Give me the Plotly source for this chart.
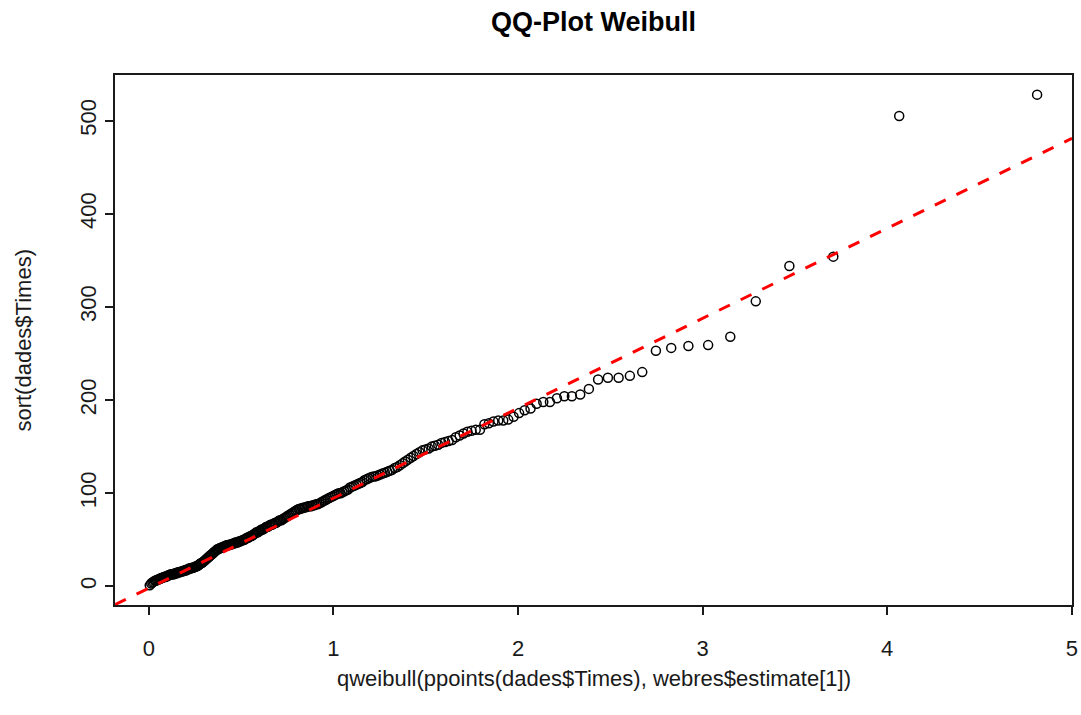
import plotly.graph_objects as go

theoretical = [
    0.005, 0.013, 0.020, 0.026, 0.033, 0.039, 0.045, 0.051, 0.057, 0.063,
    0.068, 0.074, 0.080, 0.085, 0.091, 0.096, 0.102, 0.108, 0.113, 0.119,
    0.125, 0.130, 0.136, 0.141, 0.146, 0.152, 0.157, 0.163, 0.168, 0.174,
    0.179, 0.185, 0.190, 0.195, 0.201, 0.206, 0.212, 0.217, 0.222, 0.228,
    0.233, 0.239, 0.244, 0.250, 0.255, 0.261, 0.266, 0.272, 0.277, 0.283,
    0.288, 0.294, 0.299, 0.305, 0.311, 0.316, 0.322, 0.327, 0.333, 0.339,
    0.345, 0.350, 0.356, 0.362, 0.368, 0.373, 0.379, 0.385, 0.391, 0.397,
    0.402, 0.408, 0.414, 0.420, 0.426, 0.432, 0.438, 0.444, 0.450, 0.456,
    0.462, 0.468, 0.475, 0.481, 0.487, 0.493, 0.500, 0.506, 0.512, 0.518,
    0.525, 0.531, 0.538, 0.544, 0.551, 0.557, 0.564, 0.570, 0.577, 0.584,
    0.591, 0.597, 0.604, 0.611, 0.618, 0.625, 0.632, 0.638, 0.645, 0.652,
    0.659, 0.667, 0.674, 0.681, 0.688, 0.696, 0.703, 0.710, 0.718, 0.725,
    0.733, 0.741, 0.748, 0.756, 0.764, 0.772, 0.780, 0.788, 0.795, 0.803,
    0.812, 0.820, 0.829, 0.837, 0.845, 0.854, 0.862, 0.870, 0.879, 0.887,
    0.896, 0.905, 0.914, 0.924, 0.933, 0.942, 0.951, 0.960, 0.969, 0.979,
    0.989, 0.999, 1.009, 1.019, 1.029, 1.039, 1.049, 1.059, 1.069, 1.079,
    1.090, 1.101, 1.112, 1.124, 1.135, 1.146, 1.157, 1.168, 1.180, 1.191,
    1.203, 1.216, 1.228, 1.240, 1.253, 1.266, 1.279, 1.292, 1.305, 1.318,
    1.332, 1.346, 1.360, 1.375, 1.389, 1.404, 1.419, 1.434, 1.450, 1.466,
    1.483, 1.499, 1.516, 1.533, 1.550, 1.568, 1.586, 1.605, 1.624, 1.643,
    1.663, 1.684, 1.705, 1.726, 1.748, 1.771, 1.794, 1.818, 1.842, 1.867,
    1.893, 1.920, 1.947, 1.976, 2.006, 2.036, 2.068, 2.101, 2.137,
    2.173, 2.211, 2.251, 2.292, 2.337, 2.384, 2.434, 2.487, 2.545, 2.606,
    2.673, 2.747, 2.830, 2.923, 3.030, 3.150, 3.288, 3.470, 3.708, 4.065, 4.812,
]

sorted_times = [
    1, 3, 4, 5, 6, 6, 7, 7, 8, 8,
    9, 9, 10, 10, 10, 11, 11, 12, 12, 13,
    13, 13, 13, 14, 14, 14, 15, 15, 15, 16,
    16, 16, 17, 17, 17, 18, 18, 19, 19, 20,
    19, 20, 20, 21, 21, 22, 22, 23, 24, 25,
    25, 26, 27, 28, 29, 30, 31, 32, 33, 34,
    35, 36, 37, 38, 39, 40, 40, 41, 41, 42,
    42, 43, 43, 44, 44, 44, 45, 45, 45, 46,
    46, 47, 47, 47, 48, 48, 49, 49, 50, 50,
    51, 52, 52, 53, 54, 54, 55, 56, 57, 58,
    58, 59, 60, 61, 61, 62, 63, 64, 64, 65,
    66, 66, 67, 68, 68, 69, 70, 71, 71, 72,
    73, 74, 75, 76, 77, 78, 79, 80, 81, 82,
    83, 83, 84, 84, 85, 85, 86, 86, 86, 87,
    87, 88, 88, 89, 90, 91, 92, 93, 94, 95,
    96, 97, 98, 99, 100, 100, 101, 102, 103, 104,
    106, 107, 108, 109, 110, 111, 112, 114, 115, 116,
    117, 118, 118, 119, 120, 121, 122, 123, 124, 125,
    127, 128, 130, 132, 134, 136, 138, 140, 142, 144,
    146, 147, 148, 150, 151, 152, 154, 155, 156, 157,
    160, 162, 164, 166, 167, 168, 168, 174, 175, 177,
    178, 178, 179, 182, 186, 189, 191, 196, 198,
    198, 202, 204, 204, 206, 212, 222, 224, 224, 226,
    230, 253, 256, 258, 259, 268, 306, 344, 354, 505, 528,
]
sorted_times = sorted(sorted_times)

# Reference line parameters (intercept, slope)
line_intercept = -2.0
line_slope = 96.6

x_ticks = [0, 1, 2, 3, 4, 5]
y_ticks = [0, 100, 200, 300, 400, 500]
x_range = [-0.183, 5.001]
y_range = [-20.1, 549.1]

title_text = "QQ-Plot Weibull"
x_title = "qweibull(ppoints(dades$Times), webres$estimate[1])"
y_title = "sort(dades$Times)"

FONT = "Liberation Sans, Arial, sans-serif"
AX = "#1a1a1a"

fig = go.Figure()
fig.add_trace(go.Scatter(
    x=theoretical, y=sorted_times, mode="markers",
    marker=dict(symbol="circle-open", size=9, color="black", line=dict(width=1.5, color="black")),
    showlegend=False, hoverinfo="skip",
))
fig.add_trace(go.Scatter(
    x=x_range,
    y=[line_intercept + line_slope * x_range[0], line_intercept + line_slope * x_range[1]],
    mode="lines", line=dict(color="#ff0000", width=3, dash="12px,12px"),
    showlegend=False, hoverinfo="skip",
))

fig.update_layout(
    width=1081, height=715,
    margin=dict(l=115, r=3, t=75, b=110, pad=0),
    paper_bgcolor="white", plot_bgcolor="white",
    font=dict(family=FONT, size=22, color=AX),
    showlegend=False,
)
fig.update_xaxes(
    range=x_range, tickvals=x_ticks, ticktext=[str(v) for v in x_ticks],
    showgrid=False, zeroline=False, showline=True, mirror=True,
    linecolor=AX, linewidth=1.5, ticks="outside", ticklen=8, tickwidth=1.5, tickcolor=AX,
    tickfont=dict(family=FONT, size=22, color=AX), ticklabelstandoff=15,
    ticklabeloverflow="allow",
)
fig.update_yaxes(
    range=y_range, tickvals=y_ticks, ticktext=[str(v) for v in y_ticks],
    showgrid=False, zeroline=False, showline=True, mirror=True,
    linecolor=AX, linewidth=1.5, ticks="outside", ticklen=8, tickwidth=1.5, tickcolor=AX,
    tickfont=dict(family=FONT, size=22, color=AX), tickangle=-90, ticklabelstandoff=0,
    ticklabeloverflow="allow",
)

fig.add_annotation(text="<b>" + title_text + "</b>", xref="paper", yref="paper",
                   x=0.5, y=(605 - 22) / 530, xanchor="center", yanchor="middle",
                   showarrow=False, font=dict(family=FONT, size=27, color="black"))
fig.add_annotation(text=x_title, xref="paper", yref="paper",
                   x=0.5, y=(605 - 678) / 530, xanchor="center", yanchor="middle",
                   showarrow=False, font=dict(family=FONT, size=22, color=AX))
fig.add_annotation(text=y_title, xref="paper", yref="paper",
                   x=(22 - 115) / 963, y=0.5, xanchor="center", yanchor="middle",
                   textangle=-90, showarrow=False, font=dict(family=FONT, size=22, color=AX))

fig.write_html("out.html")
